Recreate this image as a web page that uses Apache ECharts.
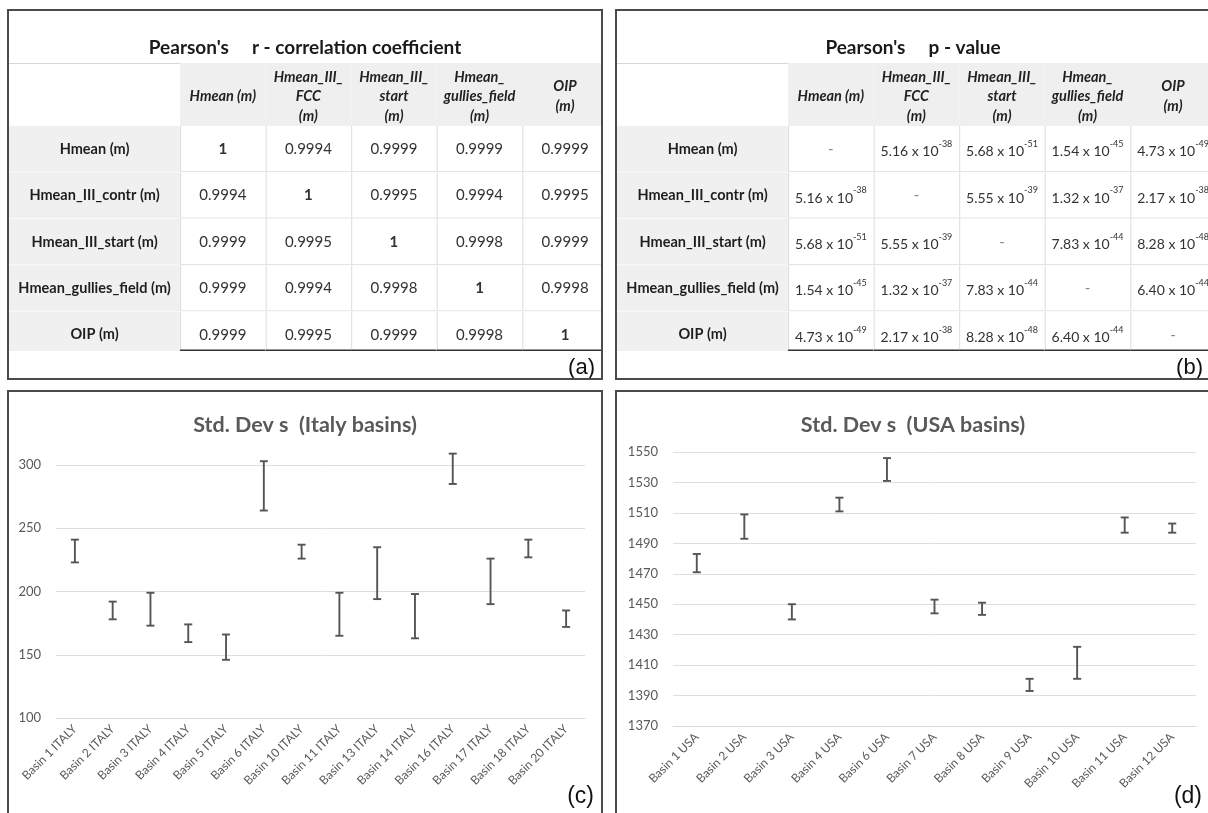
<!DOCTYPE html>
<html><head><meta charset="utf-8">
<script src="https://cdn.jsdelivr.net/npm/echarts@6/dist/echarts.min.js"></script>
<style>
html,body{margin:0;padding:0;background:#fff;width:1208px;height:813px;overflow:hidden;position:relative}
.panel{position:absolute;box-sizing:border-box;border:2px solid #4a4a4a;background:#fff}
</style></head><body>
<div id="pa" class="panel" style="left:7px;top:9px;width:596px;height:371px"></div>
<div id="pb" class="panel" style="left:615px;top:9px;width:596px;height:371px"></div>
<div id="pc" class="panel" style="left:7px;top:390px;width:596px;height:440px"></div>
<div id="pd" class="panel" style="left:615px;top:390px;width:596px;height:440px"></div>
<script>
// ---------- DATA ----------
const colHeaders = ['Hmean (m)', 'Hmean_III_\nFCC\n(m)', 'Hmean_III_\nstart\n(m)', 'Hmean_\ngullies_field\n(m)', 'OIP\n(m)'];
const rowHeaders = ['Hmean (m)', 'Hmean_III_contr (m)', 'Hmean_III_start (m)', 'Hmean_gullies_field (m)', 'OIP (m)'];
const rTitle = "Pearson's     r - correlation coefficient";
const pTitle = "Pearson's     p - value";
const rValues = [
  [1, 0.9994, 0.9999, 0.9999, 0.9999],
  [0.9994, 1, 0.9995, 0.9994, 0.9995],
  [0.9999, 0.9995, 1, 0.9998, 0.9999],
  [0.9999, 0.9994, 0.9998, 1, 0.9998],
  [0.9999, 0.9995, 0.9999, 0.9998, 1]
];
const pMantissa = [
  [null, '5.16', '5.68', '1.54', '4.73'],
  ['5.16', null, '5.55', '1.32', '2.17'],
  ['5.68', '5.55', null, '7.83', '8.28'],
  ['1.54', '1.32', '7.83', null, '6.40'],
  ['4.73', '2.17', '8.28', '6.40', null]
];
const pExponent = [
  [null, -38, -51, -45, -49],
  [-38, null, -39, -37, -38],
  [-51, -39, null, -44, -48],
  [-45, -37, -44, null, -44],
  [-49, -38, -48, -44, null]
];
const italyCats = ['Basin 1 ITALY','Basin 2 ITALY','Basin 3 ITALY','Basin 4 ITALY','Basin 5 ITALY','Basin 6 ITALY','Basin 10 ITALY','Basin 11 ITALY','Basin 13 ITALY','Basin 14 ITALY','Basin 16 ITALY','Basin 17 ITALY','Basin 18 ITALY','Basin 20 ITALY'];
const italyLow  = [223, 178, 173, 160, 146, 264, 226, 165, 194, 163, 285, 190, 227, 172];
const italyHigh = [241, 192, 199, 174, 166, 303, 237, 199, 235, 198, 309, 226, 241, 185];
const italyTicks = {min: 100, max: 300, interval: 50};
const usaCats = ['Basin 1 USA','Basin 2 USA','Basin 3 USA','Basin 4 USA','Basin 6 USA','Basin 7 USA','Basin 8 USA','Basin 9 USA','Basin 10 USA','Basin 11 USA','Basin 12 USA'];
const usaLow  = [1471, 1493, 1440, 1511, 1531, 1444, 1443, 1393, 1401, 1497, 1497];
const usaHigh = [1483, 1509, 1450, 1520, 1546, 1453, 1451, 1401, 1422, 1507, 1503];
const usaTicks = {min: 1370, max: 1550, interval: 20};

// ---------- STYLE ----------
const F = 'Lato, "Open Sans", sans-serif';
const GRAY = '#595959';

function tableChart(dom, title, tag, cellFn) {
  const headerCells = [{c: -1, r: 0, text: ''}].concat(colHeaders.map((h, i) => ({c: i, r: 0, text: h})));
  const bodyCells = [];
  rowHeaders.forEach((rh, r) => {
    bodyCells.push({c: -1, r: r, text: rh});
    for (let c = 0; c < colHeaders.length; c++) bodyCells.push(Object.assign({c: c, r: r}, cellFn(r, c)));
  });
  const span = (cell) => cell.c < 0 ? [-2, 0] : [cell.c, cell.c + 1];
  function headerRender(params, api) {
    const cell = headerCells[params.dataIndex];
    const s = span(cell);
    const p0 = api.coord([s[0], 0]), p1 = api.coord([s[1], 1]);
    const children = [];
    if (cell.c < 0) {
      children.push({type: 'line', shape: {x1: p0[0], y1: p0[1] + 0.5, x2: p1[0], y2: p0[1] + 0.5}, style: {stroke: '#d6d6d6', lineWidth: 1}});
    } else {
      children.push({type: 'rect', shape: {x: p0[0], y: p0[1], width: p1[0] - p0[0], height: p1[1] - p0[1]}, style: {fill: '#efefef'}});
      children.push({type: 'text', x: (p0[0] + p1[0]) / 2, y: (p0[1] + p1[1]) / 2 + 2,
        style: {text: cell.text, align: 'center', verticalAlign: 'middle', fill: '#222', fontFamily: F, fontSize: 14.5, fontWeight: 'bold', fontStyle: 'italic', lineHeight: 19.5}});
    }
    return {type: 'group', children: children};
  }
  function bodyRender(params, api) {
    const cell = bodyCells[params.dataIndex];
    const s = span(cell);
    const p0 = api.coord([s[0], cell.r]), p1 = api.coord([s[1], cell.r + 1]);
    const w = p1[0] - p0[0], h = p1[1] - p0[1];
    const cx = (p0[0] + p1[0]) / 2, cy = (p0[1] + p1[1]) / 2;
    const last = cell.r === rowHeaders.length - 1;
    const bottom = Math.min(p1[1], params.coordSys.y + params.coordSys.height);
    const children = [];
    if (cell.c < 0) {
      children.push({type: 'rect', shape: {x: p0[0], y: p0[1], width: w, height: h}, style: {fill: '#f0f0f0'}});
      if (!last) children.push({type: 'line', shape: {x1: p0[0], y1: p1[1], x2: p1[0], y2: p1[1]}, style: {stroke: '#ffffff', lineWidth: 1.5}});
      children.push({type: 'text', x: cx, y: cy, style: {text: cell.text, align: 'center', verticalAlign: 'middle', fill: '#1e1e1e', fontFamily: F, fontSize: 14.5, fontWeight: 'bold'}});
    } else {
      children.push({type: 'rect', shape: {x: p0[0], y: p0[1], width: w, height: h}, style: {fill: '#ffffff'}});
      children.push({type: 'line', shape: {x1: p0[0] + 0.5, y1: p0[1], x2: p0[0] + 0.5, y2: bottom}, style: {stroke: '#dcdcdc', lineWidth: 1}});
      children.push({type: 'line', shape: {x1: p0[0], y1: bottom - 0.75, x2: p1[0], y2: bottom - 0.75}, style: last ? {stroke: '#333', lineWidth: 1.5} : {stroke: '#e2e2e2', lineWidth: 1}});
      const st = {text: cell.text, align: 'center', verticalAlign: 'middle', fill: cell.dash ? '#888' : '#333', fontFamily: F, fontSize: 15, fontWeight: cell.bold ? 'bold' : 'normal'};
      if (cell.rich) st.rich = cell.rich;
      children.push({type: 'text', x: cx, y: cy, style: st});
    }
    return {type: 'group', children: children};
  }
  const chart = echarts.init(dom, null, {renderer: 'canvas'});
  chart.setOption({
    animation: false,
    title: [
      {text: title, left: 'center', top: 22, textStyle: {fontFamily: F, fontSize: 19, fontWeight: 'bold', color: '#1a1a1a'}},
      {text: tag, right: 1, top: 341, textStyle: {fontFamily: '"Liberation Sans", Arial, sans-serif', fontSize: 22, fontWeight: 'normal', color: '#111'}}
    ],
    grid: [{left: 0, right: 0, top: 52, height: 63}, {left: 0, right: 0, top: 115, height: 225}],
    xAxis: [{type: 'value', gridIndex: 0, min: -2, max: 4.92, show: false}, {type: 'value', gridIndex: 1, min: -2, max: 4.92, show: false}],
    yAxis: [{type: 'value', gridIndex: 0, min: 0, max: 1, inverse: true, show: false}, {type: 'value', gridIndex: 1, min: 0, max: 4.85, inverse: true, show: false}],
    series: [
      {type: 'custom', xAxisIndex: 0, yAxisIndex: 0, silent: true, clip: true, data: headerCells.map(c => [c.c, c.r]), renderItem: headerRender},
      {type: 'custom', xAxisIndex: 1, yAxisIndex: 1, silent: true, clip: true, data: bodyCells.map(c => [c.c, c.r]), renderItem: bodyRender}
    ]
  });
}

tableChart(document.getElementById('pa'), rTitle, '(a)', (r, c) => {
  const v = rValues[r][c];
  return v === 1 ? {text: '1', bold: true} : {text: v.toFixed(4)};
});
const supRich = {
  m: {fontFamily: F, fontSize: 14, lineHeight: 19, verticalAlign: 'bottom', fill: '#333'},
  e: {fontFamily: F, fontSize: 9, lineHeight: 10, verticalAlign: 'top', fill: '#333'}
};
tableChart(document.getElementById('pb'), pTitle, '(b)', (r, c) => {
  if (pMantissa[r][c] === null) return {text: '-', dash: true};
  return {text: '{m|' + pMantissa[r][c] + ' x 10}{e|' + pExponent[r][c] + '}', rich: supRich};
});

function errorChart(dom, title, tag, cats, low, high, ticks, grid, labelMargin) {
  const data = cats.map((c, i) => [i, low[i], high[i]]);
  function renderItem(params, api) {
    const x = api.value(0);
    const pl = api.coord([x, api.value(1)]), ph = api.coord([x, api.value(2)]);
    const st = {stroke: '#555555', lineWidth: 1.9};
    const cw = 4;
    return {type: 'group', children: [
      {type: 'line', shape: {x1: pl[0], y1: pl[1], x2: ph[0], y2: ph[1]}, style: st},
      {type: 'line', shape: {x1: ph[0] - cw, y1: ph[1], x2: ph[0] + cw, y2: ph[1]}, style: st},
      {type: 'line', shape: {x1: pl[0] - cw, y1: pl[1], x2: pl[0] + cw, y2: pl[1]}, style: st}
    ]};
  }
  const chart = echarts.init(dom, null, {renderer: 'canvas'});
  chart.setOption({
    animation: false,
    title: [
      {text: title, left: 'center', top: 17, textStyle: {fontFamily: F, fontSize: 21.5, fontWeight: 'bold', color: GRAY}},
      {text: tag, right: 2, top: 388, textStyle: {fontFamily: '"Liberation Sans", Arial, sans-serif', fontSize: 23, fontWeight: 'normal', color: '#111'}}
    ],
    grid: grid,
    xAxis: {type: 'category', data: cats, boundaryGap: true,
      axisLine: {show: true, lineStyle: {color: '#d9d9d9', width: 1}}, axisTick: {show: false},
      axisLabel: {interval: 0, rotate: 45, margin: 9, fontFamily: F, fontSize: 12, color: GRAY}},
    yAxis: {type: 'value', min: ticks.min, max: ticks.max, interval: ticks.interval,
      axisLine: {show: false}, axisTick: {show: false},
      axisLabel: {margin: labelMargin, fontFamily: F, fontSize: 13, color: GRAY, formatter: (v) => String(v)},
      splitLine: {show: true, lineStyle: {color: '#dedede', width: 1}}},
    series: [{type: 'custom', data: data, encode: {x: 0, y: [1, 2]}, clip: false, silent: true, renderItem: renderItem}]
  });
}
errorChart(document.getElementById('pc'), 'Std. Dev s  (Italy basins)', '(c)', italyCats, italyLow, italyHigh, italyTicks,
  {left: 47, width: 529, top: 73, height: 253}, 15);
errorChart(document.getElementById('pd'), 'Std. Dev s  (USA basins)', '(d)', usaCats, usaLow, usaHigh, usaTicks,
  {left: 56, width: 523, top: 60, height: 274}, 15);
</script>
</body></html>
